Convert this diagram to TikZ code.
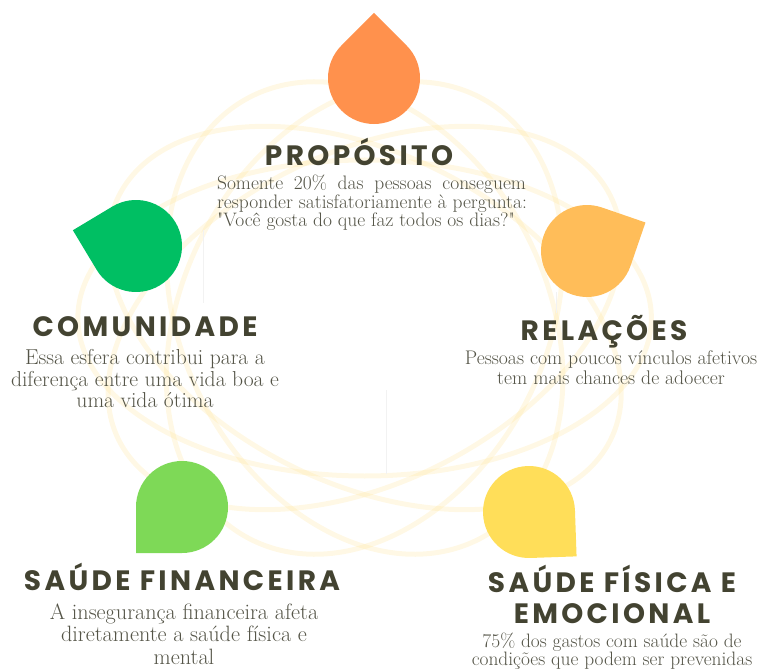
\documentclass[tikz,border=0pt]{standalone}
\usepackage{fontspec}
\usepackage{xcolor}
\newfontfamily\headfont[LetterSpace=12]{Poppins}
\definecolor{headtxt}{HTML}{434331}
\definecolor{bodytxt}{HTML}{545447}
\definecolor{orbitclr}{HTML}{FFE08A}
\definecolor{laranja}{HTML}{FF914D}
\definecolor{verde}{HTML}{00BF63}
\definecolor{pessego}{HTML}{FFBD59}
\definecolor{lima}{HTML}{7ED957}
\definecolor{amarelo}{HTML}{FFDE59}

\begin{document}
\begin{tikzpicture}[x=1pt,y=-1pt,
  head/.style={font=\headfont\bfseries\fontsize{28}{31}\selectfont,text=headtxt,inner sep=0pt},
  body/.style={text=bodytxt,align=center,inner sep=0pt},
  orbit/.style={draw=orbitclr,line width=5pt,opacity=0.22}]
\useasboundingbox (0,0) rectangle (758,671);
% faint orbits behind everything
\begin{scope}[xscale=1.18]
  \foreach \a in {0,36,...,144}
  {  \draw[orbit,rotate around={\a:(309,318)}] (309,318) ellipse[x radius=243,y radius=158];}
\end{scope}
\draw[gray!10,line width=0.6pt] (203,230) -- (203,303);
\draw[gray!10,line width=0.6pt] (386,390) -- (386,474);
\draw[gray!10,line width=0.6pt] (556,292) -- (556,313);
% the five drops
\foreach \clr/\x/\y/\ang in {laranja/374/78/270,verde/136/246/194,pessego/587/251/334,lima/182/507/135,amarelo/529/512/43}
  {  \fill[\clr] (\x,\y) ++(\ang:65.05) -- ++(\ang+135:46) arc[start angle=\ang+45,end angle=\ang+315,radius=46] -- cycle;}
% titles
\node[head] (proposito) at (359,152) {PROPÓSITO};
\node[head] (comunidade) at (145,327) {COMUNIDADE};
\node[head] (relacoes) at (604,332) {RELAÇÕES};
\node[head] (financeira) at (182,577) {SAÚDE FINANCEIRA};
\node[head,align=center] (fisica) at (612,594) {SAÚDE FÍSICA E\\EMOCIONAL};
% texts
\node[body,align=left,font=\fontsize{19.5}{17.5}\selectfont] (txtproposito) at (372,203)
  {\makebox[309pt][s]{Somente 20\% das pessoas conseguem}\\responder satisfatoriamente à pergunta:\\\textquotedbl Você gosta do que faz todos os dias?\textquotedbl};
\node[body,font=\fontsize{21.6}{21.5}\selectfont] (txtcomunidade) at (145,379)
  {Essa esfera contribui para a\\diferença entre uma vida boa e\\uma vida ótima};
\node[body,font=\fontsize{19.7}{20}\selectfont] (txtrelacoes) at (611,368)
  {Pessoas com poucos vínculos afetivos\\tem mais chances de adoecer};
\node[body,font=\fontsize{22.2}{22.5}\selectfont] (txtfinanceira) at (184,634)
  {A insegurança financeira afeta\\diretamente a saúde física e\\mental};
\node[body,font=\fontsize{19.4}{18.5}\selectfont] (txtfisica) at (612,651)
  {75\% dos gastos com saúde são de\\condições que podem ser prevenidas};
\end{tikzpicture}
\end{document}
